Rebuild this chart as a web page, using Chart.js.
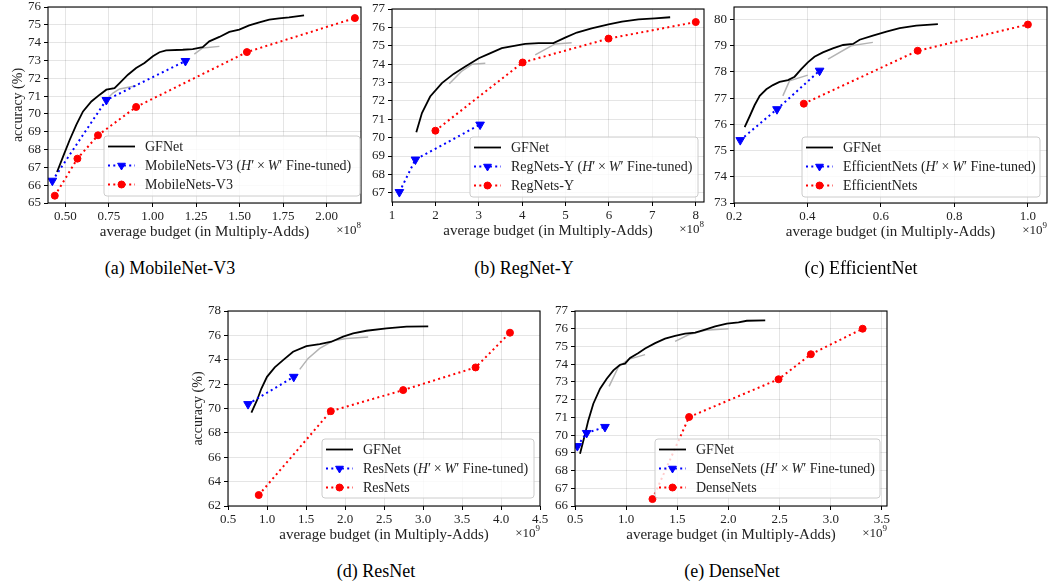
<!DOCTYPE html>
<html>
<head>
<meta charset="utf-8">
<script src="https://cdn.jsdelivr.net/npm/chart.js@4.4.1/dist/chart.umd.min.js"></script>
<style>
  html, body { margin: 0; padding: 0; background: #fff; overflow: hidden; width: 1048px; height: 584px; }
  canvas { position: absolute; }
  .cap { position: absolute; font-family: "Liberation Serif", serif; font-size: 18px; line-height: 18px;
         transform: translateX(-50%); white-space: nowrap; color: #000; }
</style>
</head>
<body>
<canvas id="cA"></canvas>
<canvas id="cB"></canvas>
<canvas id="cC"></canvas>
<canvas id="cD"></canvas>
<canvas id="cE"></canvas>
<div class="cap" style="left:170px;top:259px">(a) MobileNet-V3</div>
<div class="cap" style="left:524px;top:259px">(b) RegNet-Y</div>
<div class="cap" style="left:861px;top:259px">(c) EfficientNet</div>
<div class="cap" style="left:376px;top:562px">(d) ResNet</div>
<div class="cap" style="left:732px;top:562px">(e) DenseNet</div>
<script>
// (a) MobileNet-V3
const mbGfX = [0.452,0.487,0.525,0.563,0.601,0.649,0.697,0.735,0.782,0.811,0.859,0.906,0.954,1.002,1.04,1.078,1.174,1.231,1.288,1.326,1.384,1.441,1.498,1.555,1.613,1.67,1.727,1.784,1.87];
const mbGfY = [66.74,67.62,68.55,69.4,70.14,70.7,71.08,71.36,71.45,71.73,72.2,72.58,72.86,73.23,73.46,73.57,73.6,73.64,73.75,74.07,74.32,74.6,74.73,74.97,75.14,75.29,75.36,75.42,75.53];
const mbGreyX = [[0.744,0.773,0.811,0.906],[1.24,1.288,1.384]];
const mbGreyY = [[70.89,71.17,71.4,71.58],[73.36,73.7,73.79]];
const mbFtX = [0.425,0.735,1.189];
const mbFtY = [66.25,70.78,72.97];
const mbBaseX = [0.439,0.569,0.687,0.906,1.542,2.162];
const mbBaseY = [65.41,67.49,68.8,70.39,73.47,75.38];
const mbXTicks = [0.5,0.75,1.0,1.25,1.5,1.75,2.0];
const mbXLabels = ['0.50','0.75','1.00','1.25','1.50','1.75','2.00'];
const mbYTicks = [65,66,67,68,69,70,71,72,73,74,75,76];

// (b) RegNet-Y
const rgGfX = [1.56,1.69,1.88,2.15,2.42,2.69,3.0,3.23,3.53,4.07,4.38,4.72,4.99,5.26,5.6,5.99,6.3,6.68,7.06,7.41];
const rgGfY = [70.29,71.34,72.24,72.97,73.47,73.87,74.32,74.56,74.87,75.1,75.14,75.14,75.44,75.72,75.95,76.17,76.31,76.44,76.49,76.55];
const rgGreyX = [[2.32,2.6,2.85,3.15],[4.3,4.76,5.14]];
const rgGreyY = [[72.93,73.6,74.0,74.05],[74.5,75.1,75.17]];
const rgFtX = [1.17,1.54,3.03];
const rgFtY = [67.04,68.81,70.71];
const rgBaseX = [2.0,4.01,5.99,8.0];
const rgBaseY = [70.38,74.09,75.39,76.29];
const rgXTicks = [1,2,3,4,5,6,7,8];
const rgXLabels = ['1','2','3','4','5','6','7','8'];
const rgYTicks = [67,68,69,70,71,72,73,74,75,76,77];

// (c) EfficientNet
const efGfX = [0.229,0.243,0.256,0.27,0.288,0.306,0.324,0.347,0.365,0.383,0.401,0.419,0.442,0.469,0.497,0.524,0.542,0.578,0.615,0.651,0.696,0.755];
const efGfY = [75.9,76.32,76.73,77.09,77.34,77.5,77.62,77.69,77.82,78.11,78.37,78.58,78.75,78.9,79.03,79.07,79.23,79.39,79.54,79.67,79.77,79.83];
const efGreyX = [[0.333,0.351,0.401],[0.456,0.519,0.578]];
const efGreyY = [[77.09,77.66,77.88],[78.49,79.0,79.13]];
const efFtX = [0.217,0.317,0.433];
const efFtY = [75.4,76.58,78.05];
const efBaseX = [0.39,0.7,1.0];
const efBaseY = [76.79,78.81,79.81];
const efXTicks = [0.2,0.4,0.6,0.8,1.0];
const efXLabels = ['0.2','0.4','0.6','0.8','1.0'];
const efYTicks = [73,74,75,76,77,78,79,80];

// (d) ResNet
const rnGfX = [0.8,0.872,0.928,1.0,1.099,1.206,1.334,1.505,1.676,1.826,1.976,2.104,2.275,2.532,2.789,3.067];
const rnGfY = [69.67,70.68,71.64,72.6,73.37,73.97,74.66,75.12,75.29,75.48,75.89,76.16,76.38,76.58,76.71,76.74];
const rnGreyX = [[1.42,1.527,1.676,1.848,2.019,2.297]];
const rnGreyY = [[73.21,74.11,74.93,75.56,75.75,75.86]];
const rnFtX = [0.757,1.343];
const rnFtY = [70.36,72.6];
const rnBaseX = [0.894,1.818,2.746,3.674,4.115];
const rnBaseY = [62.9,69.78,71.51,73.37,76.22];
const rnXTicks = [0.5,1.0,1.5,2.0,2.5,3.0,3.5,4.0,4.5];
const rnXLabels = ['0.5','1.0','1.5','2.0','2.5','3.0','3.5','4.0','4.5'];
const rnYTicks = [62,64,66,68,70,72,74,76,78];

// (e) DenseNet
const dnGfX = [0.549,0.591,0.63,0.679,0.745,0.81,0.875,0.94,0.989,1.038,1.12,1.185,1.283,1.38,1.478,1.576,1.674,1.772,1.87,1.984,2.098,2.179,2.359];
const dnGfY = [68.95,69.89,70.83,71.77,72.62,73.18,73.65,73.97,74.03,74.35,74.63,74.88,75.19,75.44,75.59,75.72,75.78,75.95,76.13,76.29,76.36,76.45,76.47];
const dnGreyX = [[0.833,0.924,1.022,1.185],[1.478,1.609,1.772,2.0]];
const dnGreyY = [[72.75,73.84,74.27,74.54],[75.29,75.66,75.91,76.0]];
const dnFtX = [0.523,0.614,0.793];
const dnFtY = [69.38,70.12,70.46];
const dnBaseX = [1.257,1.615,2.489,2.805,3.311];
const dnBaseY = [66.39,71.02,73.15,74.56,76.0];
const dnXTicks = [0.5,1.0,1.5,2.0,2.5,3.0,3.5];
const dnXLabels = ['0.5','1.0','1.5','2.0','2.5','3.0','3.5'];
const dnYTicks = [66,67,68,69,70,71,72,73,74,75,76,77];

const SERIF = '"Liberation Serif", "DejaVu Serif", serif';
const PAD_L = 48, PAD_T = 12, PAD_R = 30, PAD_B = 45;

const pts = (xs, ys) => xs.map((x, i) => ({ x, y: ys[i] }));

const panels = [
  { id: 'cA', rect: [48, 7, 361, 203], xr: [0.40, 2.197], yr: [65, 76], xt: mbXTicks, xl: mbXLabels, yt: mbYTicks,
    exp: '8', ytitle: true, leg: [104, 136, 360, 196], name: 'MobileNets-V3',
    gf: [mbGfX, mbGfY], grey: [mbGreyX, mbGreyY], ft: [mbFtX, mbFtY], base: [mbBaseX, mbBaseY] },
  { id: 'cB', rect: [392, 9, 704, 202], xr: [1.0, 8.19], yr: [66.5, 77], xt: rgXTicks, xl: rgXLabels, yt: rgYTicks,
    exp: '8', ytitle: false, leg: [470, 137, 698, 197], name: 'RegNets-Y',
    gf: [rgGfX, rgGfY], grey: [rgGreyX, rgGreyY], ft: [rgFtX, rgFtY], base: [rgBaseX, rgBaseY] },
  { id: 'cC', rect: [734, 7, 1047, 203], xr: [0.2, 1.052], yr: [73, 80.48], xt: efXTicks, xl: efXLabels, yt: efYTicks,
    exp: '9', ytitle: false, leg: [802, 137, 1040, 197], name: 'EfficientNets',
    gf: [efGfX, efGfY], grey: [efGreyX, efGreyY], ft: [efFtX, efFtY], base: [efBaseX, efBaseY] },
  { id: 'cD', rect: [228, 311, 540, 506], xr: [0.5, 4.5], yr: [62, 78], xt: rnXTicks, xl: rnXLabels, yt: rnYTicks,
    exp: '9', ytitle: true, leg: [322, 439, 534, 498], name: 'ResNets',
    gf: [rnGfX, rnGfY], grey: [rnGreyX, rnGreyY], ft: [rnFtX, rnFtY], base: [rnBaseX, rnBaseY] },
  { id: 'cE', rect: [575, 311, 887, 506], xr: [0.5, 3.549], yr: [66, 77], xt: dnXTicks, xl: dnXLabels, yt: dnYTicks,
    exp: '9', ytitle: false, leg: [655, 439, 880, 498], name: 'DenseNets',
    gf: [dnGfX, dnGfY], grey: [dnGreyX, dnGreyY], ft: [dnFtX, dnFtY], base: [dnBaseX, dnBaseY] }
];

function marker(ctx, kind, x, y, color) {
  ctx.save();
  ctx.setLineDash([]);
  ctx.fillStyle = color;
  ctx.strokeStyle = color;
  ctx.lineWidth = 1;
  ctx.beginPath();
  if (kind === 'tri') {
    const r = 4.5;
    ctx.moveTo(x, y + r);
    ctx.lineTo(x - r * 0.866, y - r * 0.5);
    ctx.lineTo(x + r * 0.866, y - r * 0.5);
    ctx.closePath();
  } else {
    ctx.arc(x, y, 3.5, 0, Math.PI * 2);
  }
  ctx.fill();
  ctx.stroke();
  ctx.restore();
}

function drawRuns(ctx, runs, x, y) {
  for (const [txt, it] of runs) {
    ctx.font = (it ? 'italic ' : '') + '14px ' + SERIF;
    ctx.fillText(txt, x, y);
    x += ctx.measureText(txt).width;
  }
}

function makePanel(p) {
  const [L, T, R, B] = p.rect;
  const cv = document.getElementById(p.id);
  const cl = L - PAD_L, ct = T - PAD_T;
  cv.width = (R - L) + PAD_L + PAD_R;
  cv.height = (B - T) + PAD_T + PAD_B;
  cv.style.left = cl + 'px';
  cv.style.top = ct + 'px';
  cv.style.width = cv.width + 'px';
  cv.style.height = cv.height + 'px';

  const decor = {
    id: 'decor' + p.id,
    afterDraw(chart) {
      const ctx = chart.ctx, a = chart.chartArea;
      ctx.save();
      // frame
      ctx.strokeStyle = '#000';
      ctx.lineWidth = 1.1;
      ctx.strokeRect(a.left, a.top, a.right - a.left, a.bottom - a.top);

      // legend
      const lx0 = p.leg[0] - cl, ly0 = p.leg[1] - ct, lx1 = p.leg[2] - cl, ly1 = p.leg[3] - ct;
      ctx.beginPath();
      ctx.roundRect(lx0, ly0, lx1 - lx0, ly1 - ly0, 3);
      ctx.fillStyle = 'rgba(255,255,255,0.8)';
      ctx.fill();
      ctx.strokeStyle = '#cccccc';
      ctx.lineWidth = 1;
      ctx.stroke();
      const entries = [
        { color: '#000', w: 1.8, dash: [], mk: null, runs: [['GFNet', 0]] },
        { color: '#0000ff', w: 2, dash: [2, 3.3], mk: 'tri',
          runs: [[p.name + ' (', 0], ['H', 1], ['\u2032\u2009\u00d7\u2009', 0], ['W', 1], ['\u2032 Fine-tuned)', 0]] },
        { color: '#ff0000', w: 2, dash: [2, 3.3], mk: 'dot', runs: [[p.name, 0]] }
      ];
      entries.forEach((e, i) => {
        const cy = ly0 + 10.5 + i * 19;
        const sx = lx0 + 4, ex = sx + 27;
        ctx.beginPath();
        ctx.setLineDash(e.dash);
        ctx.strokeStyle = e.color;
        ctx.lineWidth = e.w;
        ctx.moveTo(sx, cy);
        ctx.lineTo(ex, cy);
        ctx.stroke();
        ctx.setLineDash([]);
        if (e.mk) marker(ctx, e.mk, (sx + ex) / 2, cy, e.color);
        ctx.fillStyle = '#222';
        ctx.textBaseline = 'middle';
        ctx.textAlign = 'left';
        drawRuns(ctx, e.runs, ex + 10, cy + 1);
      });

      // axis titles
      ctx.fillStyle = '#222';
      ctx.textBaseline = 'middle';
      ctx.textAlign = 'center';
      ctx.font = '15px ' + SERIF;
      ctx.fillText('average budget (in Multiply-Adds)', (a.left + a.right) / 2, a.bottom + 29);
      if (p.ytitle) {
        ctx.save();
        ctx.translate(a.left - 30, (a.top + a.bottom) / 2);
        ctx.rotate(-Math.PI / 2);
        ctx.font = '14px ' + SERIF;
        ctx.fillText('accuracy (%)', 0, 0);
        ctx.restore();
      }
      // offset label
      ctx.textAlign = 'left';
      ctx.font = '9px ' + SERIF;
      const sw = ctx.measureText(p.exp).width;
      ctx.font = '13px ' + SERIF;
      const bw = ctx.measureText('\u00d710').width;
      const bx = a.right - sw - bw;
      ctx.fillText('\u00d710', bx, a.bottom + 28);
      ctx.font = '9px ' + SERIF;
      ctx.fillText(p.exp, bx + bw, a.bottom + 23);
      ctx.restore();
    }
  };

  const grid = { color: 'rgba(0,0,0,0.1)', lineWidth: 1, drawTicks: true, tickLength: 4, tickColor: '#000', tickWidth: 1 };
  const tickFont = { family: SERIF, size: 13 };

  const datasets = [
    { data: pts(p.ft[0], p.ft[1]), showLine: true, borderColor: '#0000ff', backgroundColor: '#0000ff',
      borderWidth: 2, borderDash: [2, 3.3], pointStyle: 'triangle', rotation: 180, pointRadius: 5,
      pointBorderWidth: 1, order: 0 },
    { data: pts(p.base[0], p.base[1]), showLine: true, borderColor: '#ff0000', backgroundColor: '#ff0000',
      borderWidth: 2, borderDash: [2, 3.3], pointStyle: 'circle', pointRadius: 3.5,
      pointBorderWidth: 1, order: 1 },
    { data: pts(p.gf[0], p.gf[1]), showLine: true, borderColor: '#000', borderWidth: 1.8,
      pointRadius: 0, order: 2 }
  ];
  p.grey[0].forEach((xs, k) => {
    datasets.push({ data: pts(xs, p.grey[1][k]), showLine: true, borderColor: '#b3b3b3', borderWidth: 1.5,
      pointRadius: 0, order: 3 });
  });

  new Chart(cv, {
    type: 'scatter',
    data: { datasets },
    options: {
      responsive: false,
      animation: false,
      events: [],
      layout: { padding: { top: PAD_T, right: PAD_R, left: 0, bottom: 0 } },
      plugins: { legend: { display: false }, tooltip: { enabled: false } },
      scales: {
        x: {
          type: 'linear', min: p.xr[0], max: p.xr[1],
          afterBuildTicks: s => { s.ticks = p.xt.map(v => ({ value: v })); },
          afterFit: s => { s.height = PAD_B; },
          ticks: { autoSkip: false, maxRotation: 0, padding: 2, color: '#222', font: tickFont,
                   callback: (v, i) => p.xl[i] },
          grid, border: { display: false }
        },
        y: {
          type: 'linear', min: p.yr[0], max: p.yr[1],
          afterBuildTicks: s => { s.ticks = p.yt.map(v => ({ value: v })); },
          afterFit: s => { s.width = PAD_L; },
          ticks: { autoSkip: false, padding: 3, color: '#222', font: tickFont,
                   callback: (v, i) => String(p.yt[i]) },
          grid, border: { display: false }
        }
      }
    },
    plugins: [decor]
  });
}

panels.forEach(makePanel);
</script>
</body>
</html>
